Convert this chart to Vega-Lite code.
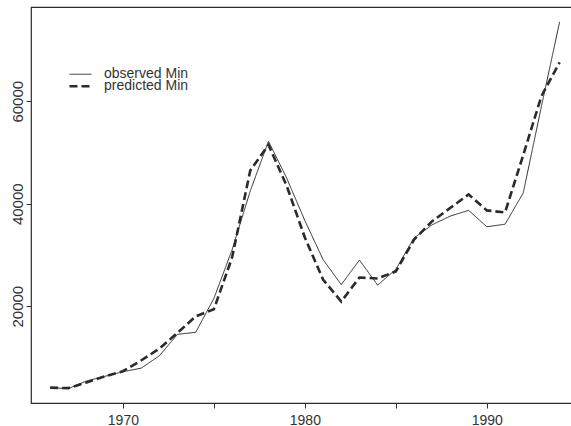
{
  "$schema": "https://vega.github.io/schema/vega-lite/v6.json",
  "width": 541,
  "height": 396,
  "autosize": "none",
  "padding": {"left": 31, "top": 7, "right": 0, "bottom": 23},
  "background": "white",
  "config": {
    "view": {"stroke": "#2b2b2b", "strokeWidth": 1.2},
    "font": "Liberation Sans",
    "legend": {
      "title": null,
      "orient": "none",
      "legendX": 37,
      "legendY": 62.5,
      "symbolType": "stroke",
      "symbolSize": 484,
      "clipHeight": 9.5,
      "rowPadding": -5,
      "labelFontSize": 14,
      "labelColor": "#333333",
      "labelOffset": 11,
      "padding": 0,
      "symbolOffset": 0
    }
  },
  "data": {
    "values": [
      {"year": 1966, "series": "observed Min", "value": 4100},
      {"year": 1967, "series": "observed Min", "value": 3900},
      {"year": 1968, "series": "observed Min", "value": 5400},
      {"year": 1969, "series": "observed Min", "value": 6300},
      {"year": 1970, "series": "observed Min", "value": 7200},
      {"year": 1971, "series": "observed Min", "value": 7900},
      {"year": 1972, "series": "observed Min", "value": 10300},
      {"year": 1973, "series": "observed Min", "value": 14500},
      {"year": 1974, "series": "observed Min", "value": 14900},
      {"year": 1975, "series": "observed Min", "value": 21500},
      {"year": 1976, "series": "observed Min", "value": 31000},
      {"year": 1977, "series": "observed Min", "value": 42500},
      {"year": 1978, "series": "observed Min", "value": 52200},
      {"year": 1979, "series": "observed Min", "value": 45000},
      {"year": 1980, "series": "observed Min", "value": 36700},
      {"year": 1981, "series": "observed Min", "value": 29100},
      {"year": 1982, "series": "observed Min", "value": 24200},
      {"year": 1983, "series": "observed Min", "value": 29000},
      {"year": 1984, "series": "observed Min", "value": 24100},
      {"year": 1985, "series": "observed Min", "value": 27200},
      {"year": 1986, "series": "observed Min", "value": 33300},
      {"year": 1987, "series": "observed Min", "value": 35900},
      {"year": 1988, "series": "observed Min", "value": 37600},
      {"year": 1989, "series": "observed Min", "value": 38700},
      {"year": 1990, "series": "observed Min", "value": 35500},
      {"year": 1991, "series": "observed Min", "value": 36000},
      {"year": 1992, "series": "observed Min", "value": 42100},
      {"year": 1993, "series": "observed Min", "value": 59000},
      {"year": 1994, "series": "observed Min", "value": 75500},
      {"year": 1966, "series": "predicted Min", "value": 4100},
      {"year": 1967, "series": "predicted Min", "value": 4000},
      {"year": 1968, "series": "predicted Min", "value": 5100},
      {"year": 1969, "series": "predicted Min", "value": 6300},
      {"year": 1970, "series": "predicted Min", "value": 7300},
      {"year": 1971, "series": "predicted Min", "value": 9400},
      {"year": 1972, "series": "predicted Min", "value": 11700},
      {"year": 1973, "series": "predicted Min", "value": 14800},
      {"year": 1974, "series": "predicted Min", "value": 18000},
      {"year": 1975, "series": "predicted Min", "value": 19400},
      {"year": 1976, "series": "predicted Min", "value": 29500},
      {"year": 1977, "series": "predicted Min", "value": 46500},
      {"year": 1978, "series": "predicted Min", "value": 51500},
      {"year": 1979, "series": "predicted Min", "value": 43500},
      {"year": 1980, "series": "predicted Min", "value": 33400},
      {"year": 1981, "series": "predicted Min", "value": 25200},
      {"year": 1982, "series": "predicted Min", "value": 20900},
      {"year": 1983, "series": "predicted Min", "value": 25600},
      {"year": 1984, "series": "predicted Min", "value": 25400},
      {"year": 1985, "series": "predicted Min", "value": 26800},
      {"year": 1986, "series": "predicted Min", "value": 33000},
      {"year": 1987, "series": "predicted Min", "value": 36600},
      {"year": 1988, "series": "predicted Min", "value": 39200},
      {"year": 1989, "series": "predicted Min", "value": 41800},
      {"year": 1990, "series": "predicted Min", "value": 38700},
      {"year": 1991, "series": "predicted Min", "value": 38300},
      {"year": 1992, "series": "predicted Min", "value": 49500},
      {"year": 1993, "series": "predicted Min", "value": 61000},
      {"year": 1994, "series": "predicted Min", "value": 67600}
    ]
  },
  "mark": {"type": "line", "clip": true},
  "encoding": {
    "x": {
      "field": "year",
      "type": "quantitative",
      "scale": {"domain": [1964.95, 1994.68], "nice": false, "zero": false},
      "axis": {
        "title": null,
        "values": [1970, 1975, 1980, 1985, 1990],
        "format": "d",
        "labelExpr": "datum.value % 10 === 0 ? datum.label : ''",
        "grid": false,
        "domain": false,
        "tickSize": 5,
        "tickColor": "#333333",
        "labelFontSize": 14,
        "labelColor": "#333333",
        "labelPadding": 5
      }
    },
    "y": {
      "field": "value",
      "type": "quantitative",
      "scale": {"domain": [1100, 78400], "nice": false, "zero": false},
      "axis": {
        "title": null,
        "values": [20000, 40000, 60000],
        "format": "d",
        "labelAngle": -90,
        "grid": false,
        "domain": false,
        "tickSize": 5,
        "tickColor": "#333333",
        "labelFontSize": 15,
        "labelColor": "#333333",
        "labelPadding": 1
      }
    },
    "color": {
      "field": "series",
      "type": "nominal",
      "scale": {"domain": ["observed Min", "predicted Min"], "range": ["#2a2a2a", "#2a2a2a"]}
    },
    "strokeDash": {
      "field": "series",
      "type": "nominal",
      "scale": {"domain": ["observed Min", "predicted Min"], "range": [[1, 0], [8, 4]]}
    },
    "strokeWidth": {
      "field": "series",
      "type": "nominal",
      "scale": {"domain": ["observed Min", "predicted Min"], "range": [1, 2.6]}
    }
  }
}
